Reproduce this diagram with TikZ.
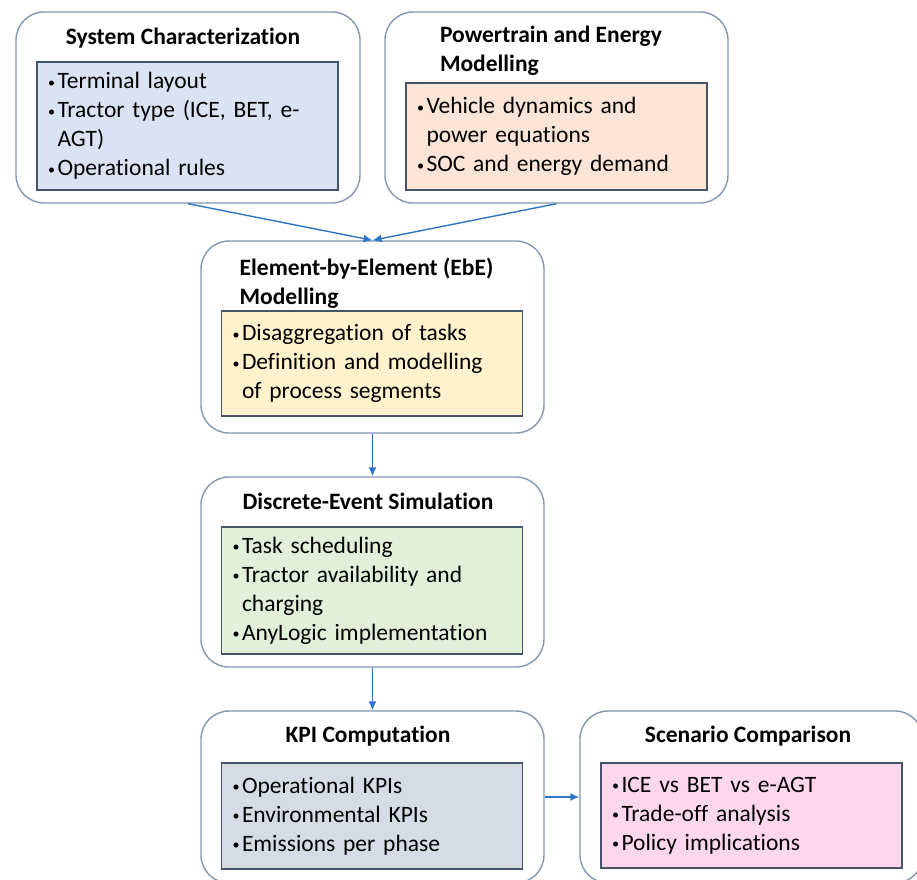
\documentclass[tikz,border=0pt]{standalone}
\usepackage{fontspec}
\setmainfont{Carlito}[Ligatures = NoCommon]
\usetikzlibrary{arrows.meta}

\definecolor{boxline}{RGB}{132,151,176}
\definecolor{listline}{RGB}{68,84,106}
\definecolor{flowblue}{RGB}{46,117,200}
\definecolor{charfill}{RGB}{218,227,243}
\definecolor{powerfill}{RGB}{252,228,214}
\definecolor{ebefill}{RGB}{255,242,204}
\definecolor{desfill}{RGB}{226,240,217}
\definecolor{kpifill}{RGB}{214,220,229}
\definecolor{scenfill}{RGB}{255,215,236}

\newcommand{\bul}[1]{\makebox[9.5pt][l]{\raisebox{1.5pt}{\scalebox{0.6}{•}}}#1}
\newcommand{\ctd}[1]{\hspace*{9.5pt}#1}

\tikzset{
	stagebox/.style = {draw = boxline, line width = 1.4pt, rounded corners = 28pt,
		minimum width = 343pt, inner sep = 0pt},
	stagetitle/.style = {align = left, inner sep = 0pt,
		font = \fontsize{23.5}{29}\selectfont\bfseries},
	listbox/.style = {draw = listline, line width = 1.3pt, align = left,
		text width = 279pt, inner xsep = 11pt, inner ysep = 0pt},
	flow/.style = {draw = flowblue, line width = 1.4pt, -{Latex[length = 9pt, width = 8pt]}}
}

\begin{document}
\begin{tikzpicture}[x = 1pt, y = -1pt, font = \fontsize{23.5}{29}\selectfont]

	\useasboundingbox (0, 0) rectangle (917, 879);
	\clip (0, 0) rectangle (917, 879);

	% Stage boxes

	\node [stagebox, minimum width = 344pt, minimum height = 191pt] (syschar) at (188, 107.5) {};
	\node [stagebox, minimum height = 191pt] (powertrain) at (556.5, 107.5) {};
	\node [stagebox, minimum height = 192pt] (ebe) at (372.5, 337) {};
	\node [stagebox, minimum height = 190pt] (des) at (372.5, 572) {};
	\node [stagebox, minimum height = 172pt] (kpi) at (372.5, 797) {};
	\node [stagebox, minimum height = 172pt] (scenario) at (751.5, 797) {};

	% Titles

	\node [stagetitle] (syschartitle) at (183, 38) {System Characterization};
	\node [stagetitle] (powertraintitle) at (551, 51) {Powertrain and Energy\\Modelling};
	\node [stagetitle] (ebetitle) at (366.5, 283) {Element-by-Element (EbE)\\Modelling};
	\node [stagetitle] (destitle) at (368, 501) {Discrete-Event Simulation};
	\node [stagetitle] (kpititle) at (368, 736) {KPI Computation};
	\node [stagetitle] (scenariotitle) at (748, 736) {Scenario Comparison};

	% Bullet lists

	\node [listbox, fill = charfill, minimum height = 128pt] (syscharlist) at (187.5, 126)
		{\bul{Terminal layout}\\ \bul{Tractor type (ICE, BET, e-}\\ \ctd{AGT)}\\ \bul{Operational rules}};
	\node [listbox, fill = powerfill, minimum height = 107pt] (powertrainlist) at (556.5, 136.5)
		{\bul{Vehicle dynamics and}\\ \ctd{power equations}\\ \bul{SOC and energy demand}};
	\node [listbox, fill = ebefill, minimum height = 105pt] (ebelist) at (372, 363.5)
		{\bul{Disaggregation of tasks}\\ \bul{Definition and modelling}\\ \ctd{of process segments}};
	\node [listbox, fill = desfill, minimum height = 127pt] (deslist) at (372, 590.5)
		{\bul{Task scheduling}\\ \bul{Tractor availability and}\\ \ctd{charging}\\ \bul{AnyLogic implementation}};
	\node [listbox, fill = kpifill, minimum height = 106pt] (kpilist) at (372, 816)
		{\bul{Operational KPIs}\\ \bul{Environmental KPIs}\\ \bul{Emissions per phase}};
	\node [listbox, fill = scenfill, minimum height = 105pt] (scenariolist) at (751.5, 815.5)
		{\bul{ICE vs BET vs e-AGT}\\ \bul{Trade-off analysis}\\ \bul{Policy implications}};

	% Flow between stages

	\begin{scope}[flow]

		\draw (syschar.south) -- (ebe.north);
		\draw (powertrain.south) -- (ebe.north);
		\draw (ebe.south) -- (des.north);
		\draw (des.south) -- (kpi.north);
		\draw (kpi.east) -- (scenario.west);

	\end{scope}

\end{tikzpicture}
\end{document}
